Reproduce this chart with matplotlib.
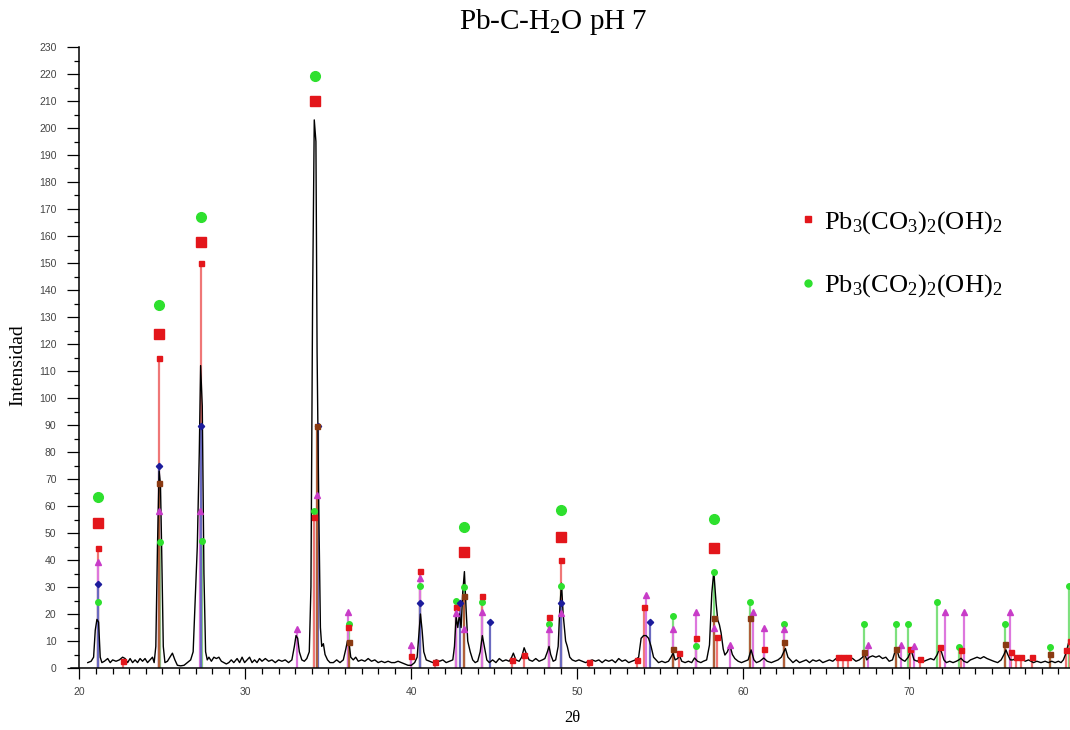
import numpy as np
import matplotlib
matplotlib.use("Agg")
import matplotlib.pyplot as plt
from matplotlib.lines import Line2D
from matplotlib.ticker import MultipleLocator

plt.rcParams['mathtext.fontset'] = 'custom'
plt.rcParams['mathtext.rm'] = 'Liberation Serif'
plt.rcParams['mathtext.it'] = 'Liberation Serif:italic'

two_theta = [
    20.5, 20.7, 20.85, 20.95, 21.05, 21.15, 21.25, 21.35, 21.5, 21.7, 21.85, 22.0, 22.2, 22.4,
    22.6, 22.75, 22.9, 23.05, 23.2, 23.35, 23.5, 23.65, 23.8, 23.95, 24.1, 24.25, 24.4, 24.5,
    24.6, 24.7, 24.8, 24.88, 24.95, 25.05, 25.15, 25.3, 25.45, 25.6, 25.75, 25.9, 26.1, 26.3,
    26.5, 26.7, 26.85, 26.95, 27.1, 27.22, 27.3, 27.4, 27.5, 27.6, 27.7, 27.8, 27.95, 28.1,
    28.25, 28.4, 28.55, 28.7, 28.85, 29.0, 29.15, 29.3, 29.5, 29.65, 29.8, 29.95, 30.1, 30.25,
    30.4, 30.55, 30.7, 30.85, 31.0, 31.2, 31.4, 31.6, 31.8, 32.0, 32.2, 32.4, 32.6, 32.8,
    32.95, 33.05, 33.15, 33.25, 33.4, 33.55, 33.7, 33.85, 33.95, 34.05, 34.15, 34.25, 34.32,
    34.42, 34.52, 34.6, 34.7, 34.8, 34.95, 35.1, 35.3, 35.5, 35.7, 35.9, 36.05, 36.15, 36.25,
    36.35, 36.5, 36.65, 36.8, 37.0, 37.2, 37.4, 37.6, 37.8, 38.0, 38.2, 38.4, 38.6, 38.8,
    39.0, 39.2, 39.4, 39.6, 39.8, 40.0, 40.2, 40.35, 40.45, 40.55, 40.65, 40.75, 40.9, 41.1,
    41.3, 41.5, 41.7, 41.9, 42.1, 42.3, 42.5, 42.6, 42.7, 42.8, 42.9, 43.0, 43.1, 43.2, 43.3,
    43.4, 43.55, 43.7, 43.85, 44.0, 44.15, 44.28, 44.4, 44.55, 44.7, 44.9, 45.1, 45.3, 45.5,
    45.7, 45.9, 46.05, 46.15, 46.3, 46.5, 46.65, 46.8, 46.95, 47.1, 47.3, 47.5, 47.7, 47.9,
    48.05, 48.2, 48.3, 48.4, 48.55, 48.7, 48.85, 48.95, 49.05, 49.15, 49.3, 49.4, 49.55, 49.7,
    49.9, 50.1, 50.3, 50.5, 50.7, 50.9, 51.1, 51.3, 51.5, 51.7, 51.9, 52.1, 52.3, 52.5, 52.7,
    52.9, 53.1, 53.3, 53.5, 53.7, 53.85, 54.0, 54.15, 54.3, 54.45, 54.6, 54.75, 54.9, 55.1,
    55.3, 55.5, 55.65, 55.78, 55.9, 56.05, 56.15, 56.3, 56.5, 56.7, 56.9, 57.07, 57.25, 57.45,
    57.6, 57.8, 57.97, 58.11, 58.23, 58.37, 58.47, 58.57, 58.67, 58.8, 58.9, 59.05, 59.2,
    59.35, 59.5, 59.7, 59.9, 60.1, 60.3, 60.48, 60.65, 60.8, 61.0, 61.24, 61.45, 61.7, 61.9,
    62.1, 62.3, 62.45, 62.55, 62.7, 62.85, 63.0, 63.2, 63.4, 63.6, 63.8, 64.0, 64.2, 64.4,
    64.6, 64.8, 65.0, 65.2, 65.4, 65.6, 65.8, 66.0, 66.2, 66.4, 66.6, 66.8, 67.0, 67.2, 67.31,
    67.45, 67.6, 67.8, 68.0, 68.2, 68.4, 68.6, 68.8, 69.0, 69.15, 69.25, 69.4, 69.6, 69.75,
    69.95, 70.12, 70.3, 70.5, 70.7, 70.9, 71.1, 71.3, 71.5, 71.7, 71.83, 71.95, 72.1, 72.25,
    72.45, 72.65, 72.85, 73.0, 73.13, 73.3, 73.5, 73.7, 73.9, 74.1, 74.3, 74.5, 74.7, 74.9,
    75.1, 75.34, 75.55, 75.72, 75.84, 75.95, 76.1, 76.25, 76.45, 76.6, 76.8, 77.0, 77.2,
    77.35, 77.5, 77.7, 77.95, 78.2, 78.4, 78.6, 78.8, 79.0, 79.16, 79.3, 79.46, 79.6, 79.7,
]
intensity = [
    2, 2.5, 4, 14, 18, 17, 4, 2, 2.5, 3.5, 2, 3, 2.5, 3,
    4, 3.5, 2, 3.5, 2, 3, 2, 3.5, 2.5, 3.5, 2, 3, 4, 2,
    8, 45, 73, 68, 45, 8, 2, 2.5, 4, 5.5, 3, 1, 0.8, 1,
    2, 3, 6, 22, 45, 80, 112, 97, 35, 6, 3, 4, 2.5, 4,
    3.5, 4, 2.5, 2, 1.5, 2, 3, 2, 3.5, 2, 4, 2, 3, 4,
    2, 3, 2, 3.5, 2.5, 3.5, 2.5, 3, 2, 3, 2.5, 3, 2, 3,
    8, 12, 11, 6, 3, 2.5, 3.5, 6, 30, 137, 203, 195, 117,
    60, 15, 8, 9, 5, 3, 2, 2, 3, 2, 3, 7, 10, 9,
    4, 3, 4, 2.5, 3, 2.5, 3.5, 2.5, 3, 2, 2.5, 2, 2.5, 2,
    2, 2.5, 2, 1.5, 1, 1, 2, 4, 12, 20, 14, 6, 3, 2.5,
    2, 3, 2.5, 3, 2, 2.5, 3, 8, 19, 15, 20, 15, 28, 35.7, 22,
    10, 6, 3, 2, 2.5, 6, 12, 8, 3, 2, 3, 2, 3.5, 2.5,
    3, 2.5, 4, 5.5, 3, 2.5, 4, 7.5, 5, 3, 2.5, 3.5, 2.5, 3,
    3.5, 6, 8, 5, 2.5, 3, 8, 22, 31.4, 20, 10, 8, 4, 3,
    2.5, 3, 2.5, 2, 2.5, 3, 2.5, 3, 2, 3, 2.5, 3, 2, 3.5, 2.5,
    3, 2, 2.5, 3, 4, 11, 12, 12, 11, 8, 4, 3, 2, 2.5,
    2, 2.5, 4, 5.5, 3, 3.5, 4.8, 2.5, 2, 2.5, 2, 3.7, 2.5, 2,
    2.5, 3, 8.5, 27.7, 35.7, 24, 17.8, 16, 13, 7, 4.8, 6, 8.5,
    5, 3.5, 2.5, 2, 2.5, 3, 6.7, 3, 2, 2.5, 3.7, 2.5, 2, 2.5,
    3, 4, 6, 7.2, 4, 3, 2, 3, 2, 2.5, 3, 2, 3, 2.5,
    3, 2, 2.5, 3, 2.5, 3.5, 3, 3.5, 3, 4, 3.5, 2.5, 3, 4, 5.5,
    3, 4, 4.5, 4, 4.5, 3.5, 4, 2.5, 3, 6, 7.2, 4, 3, 2.5,
    4, 6.7, 3, 2.5, 3.5, 2.5, 3, 3.5, 3, 5, 7.2, 6, 3, 2,
    2.5, 2, 2.5, 3, 3.6, 2.5, 2, 3, 3.5, 4, 3.5, 4.2, 3.5, 3,
    2.5, 2, 3, 5, 6.7, 5, 3, 3, 3.5, 3, 3.5, 2.5, 3,
    2.5, 2, 2.5, 2, 2.5, 2, 2.5, 2, 2.5, 2, 3, 5.5, 9, 10.4,
]

# reference sticks per phase: positions and heights
red_pos = [21.1, 22.6, 24.8, 27.3, 34.12, 36.2, 40.0, 40.55, 41.4, 42.7, 44.28, 46.07, 46.79,
           48.29, 49.05, 50.7, 53.6, 54.0, 56.12, 57.15, 58.4, 61.24, 65.7, 66.0, 66.3, 70.08,
           70.68, 71.89, 73.13, 76.14, 76.44, 76.75, 77.4, 79.46, 79.72]
red_h = [44.5, 2.7, 115, 150, 56, 15.2, 4.6, 36, 2.4, 22.7, 26.5, 3, 4.8,
         19, 40, 2.4, 3, 22.7, 5.6, 11.2, 11.6, 6.9, 4.2, 4.2, 4.2, 7,
         3.2, 7.9, 6.7, 6.0, 4.2, 4.2, 3.9, 6.7, 10]

green_pos = [21.1, 24.85, 27.4, 34.15, 36.25, 40.55, 42.7, 43.2, 44.28, 48.29, 49.05, 55.76,
             57.15, 58.27, 60.43, 62.45, 67.31, 69.22, 69.92, 71.69, 72.99, 75.8, 78.5, 79.66]
green_h = [24.6, 46.8, 47, 58.3, 16.3, 30.2, 24.8, 30, 24.4, 16.3, 30.4, 19.2,
           8.1, 35.7, 24.6, 16.3, 16.3, 16.3, 16.3, 24.6, 7.9, 16.3, 7.9, 30.4]

magenta_pos = [21.1, 24.8, 27.25, 33.1, 34.3, 36.2, 40.0, 40.55, 42.7, 43.2, 44.28, 48.29,
               49.05, 54.15, 55.76, 57.15, 58.27, 59.23, 60.58, 61.24, 62.45, 67.5, 69.52,
               70.28, 72.19, 73.29, 76.1]
magenta_h = [39.4, 58, 58.3, 14.4, 64.2, 20.9, 8.5, 33.2, 20.5, 14.4, 20.9, 14.4,
             20.5, 27, 14.4, 20.6, 14.7, 8.5, 20.9, 14.7, 14.4, 8.5, 8.5,
             8.3, 20.9, 20.9, 20.9]

blue_pos = [21.1, 24.8, 27.3, 34.35, 40.55, 42.95, 44.76, 49.0, 54.37]
blue_h = [31.1, 75, 89.7, 89.7, 24.2, 24, 17, 24, 17]

brown_pos = [24.8, 34.3, 36.25, 43.15, 55.76, 58.27, 60.43, 62.45, 67.31, 69.22, 75.8, 78.5]
brown_h = [68.5, 89.7, 9.7, 26.8, 7, 18.4, 18.4, 9.7, 5.8, 7, 9, 5.2]

# labelled peaks (big markers above the main reflections)
label_pos = [21.1, 24.8, 27.35, 34.22, 43.2, 49.04, 58.25]
label_red = [53.7, 123.7, 157.8, 210, 43, 48.5, 44.4]
label_green = [63.3, 134.4, 167, 219.3, 52.2, 58.5, 55.2]

legend_labels = [r'Pb$_3$(CO$_3$)$_2$(OH)$_2$', r'Pb$_3$(CO$_2$)$_2$(OH)$_2$']

RED = '#e3161b'
GREEN = '#2ee02e'
MAGENTA = '#c83cc8'
BLUE = '#1c1c9c'
BROWN = '#8a3a12'

fig = plt.figure(figsize=(10.7, 7.3), dpi=100)
ax = fig.add_axes([71.2 / 1070, 62 / 730, 998.8 / 1070, 621 / 730])

phases = [
    (green_pos, green_h, GREEN, '#7ee07e', 'o', 4.0),
    (red_pos, red_h, RED, '#ef7777', 's', 3.6),
    (magenta_pos, magenta_h, MAGENTA, '#dd77dd', '^', 5.0),
    (blue_pos, blue_h, BLUE, '#6a6ac0', 'D', 3.2),
    (brown_pos, brown_h, BROWN, '#b0603a', 's', 3.6),
]
for pos, h, col, lcol, mk, ms in phases:
    ax.vlines(pos, 0, h, colors=lcol, linewidth=1.6, zorder=2)
    ax.plot(pos, h, ls='none', marker=mk, color=col, markersize=ms, zorder=4)

ax.plot(two_theta, intensity, color='black', linewidth=1.0, zorder=3)

ax.plot(label_pos, label_red, ls='none', marker='s', color=RED, markersize=6.5, zorder=5)
ax.plot(label_pos, label_green, ls='none', marker='o', color=GREEN, markersize=7, zorder=5)

ax.set_xlim(19.5, 79.7)
ax.set_ylim(0, 230)
ax.spines['left'].set_position(('data', 20))
ax.spines['top'].set_visible(False)
ax.spines['right'].set_visible(False)
for s in ('left', 'bottom'):
    ax.spines[s].set_linewidth(1.1)

ax.xaxis.set_major_locator(MultipleLocator(10))
ax.xaxis.set_minor_locator(MultipleLocator(1))
ax.yaxis.set_major_locator(MultipleLocator(10))
ax.yaxis.set_minor_locator(MultipleLocator(5))
ax.set_xticks(range(20, 80, 10))
ax.tick_params(axis='y', which='major', length=8.6, width=0.9, pad=8,
               labelsize=7.5, labelcolor='#444444')
ax.tick_params(axis='y', which='minor', length=3.6, width=0.9)
ax.tick_params(axis='x', which='major', length=8, width=0.9, pad=6,
               labelsize=7.5, labelcolor='#444444')
ax.tick_params(axis='x', which='minor', length=4.3, width=0.9)
for lab in ax.get_xticklabels() + ax.get_yticklabels():
    lab.set_family(['Liberation Sans', 'DejaVu Sans'])

handles = [Line2D([], [], ls='none', marker='s', color=RED, markersize=5),
           Line2D([], [], ls='none', marker='o', color=GREEN, markersize=5)]
leg = ax.legend(handles, legend_labels, loc='upper left',
                bbox_to_anchor=(776 / 1070, 1 - 185 / 730), bbox_transform=fig.transFigure,
                frameon=False, handlelength=0.6, handletextpad=0.3, labelspacing=1.4,
                prop={'family': ['Liberation Serif', 'DejaVu Serif'], 'size': 19})

serif = ['Liberation Serif', 'DejaVu Serif']
fig.text(553 / 1070, 1 - 22 / 730, 'Pb-C-H$_2$O pH 7', ha='center', va='center',
         family=serif, fontsize=21)
fig.text(18 / 1070, 1 - 365 / 730, 'Intensidad', rotation=90, ha='center', va='center',
         family=serif, fontsize=14)
fig.text(572 / 1070, 1 - 718 / 730, '2θ', ha='center', va='center',
         family=serif, fontsize=12)

fig.savefig('out.png', dpi=100)
